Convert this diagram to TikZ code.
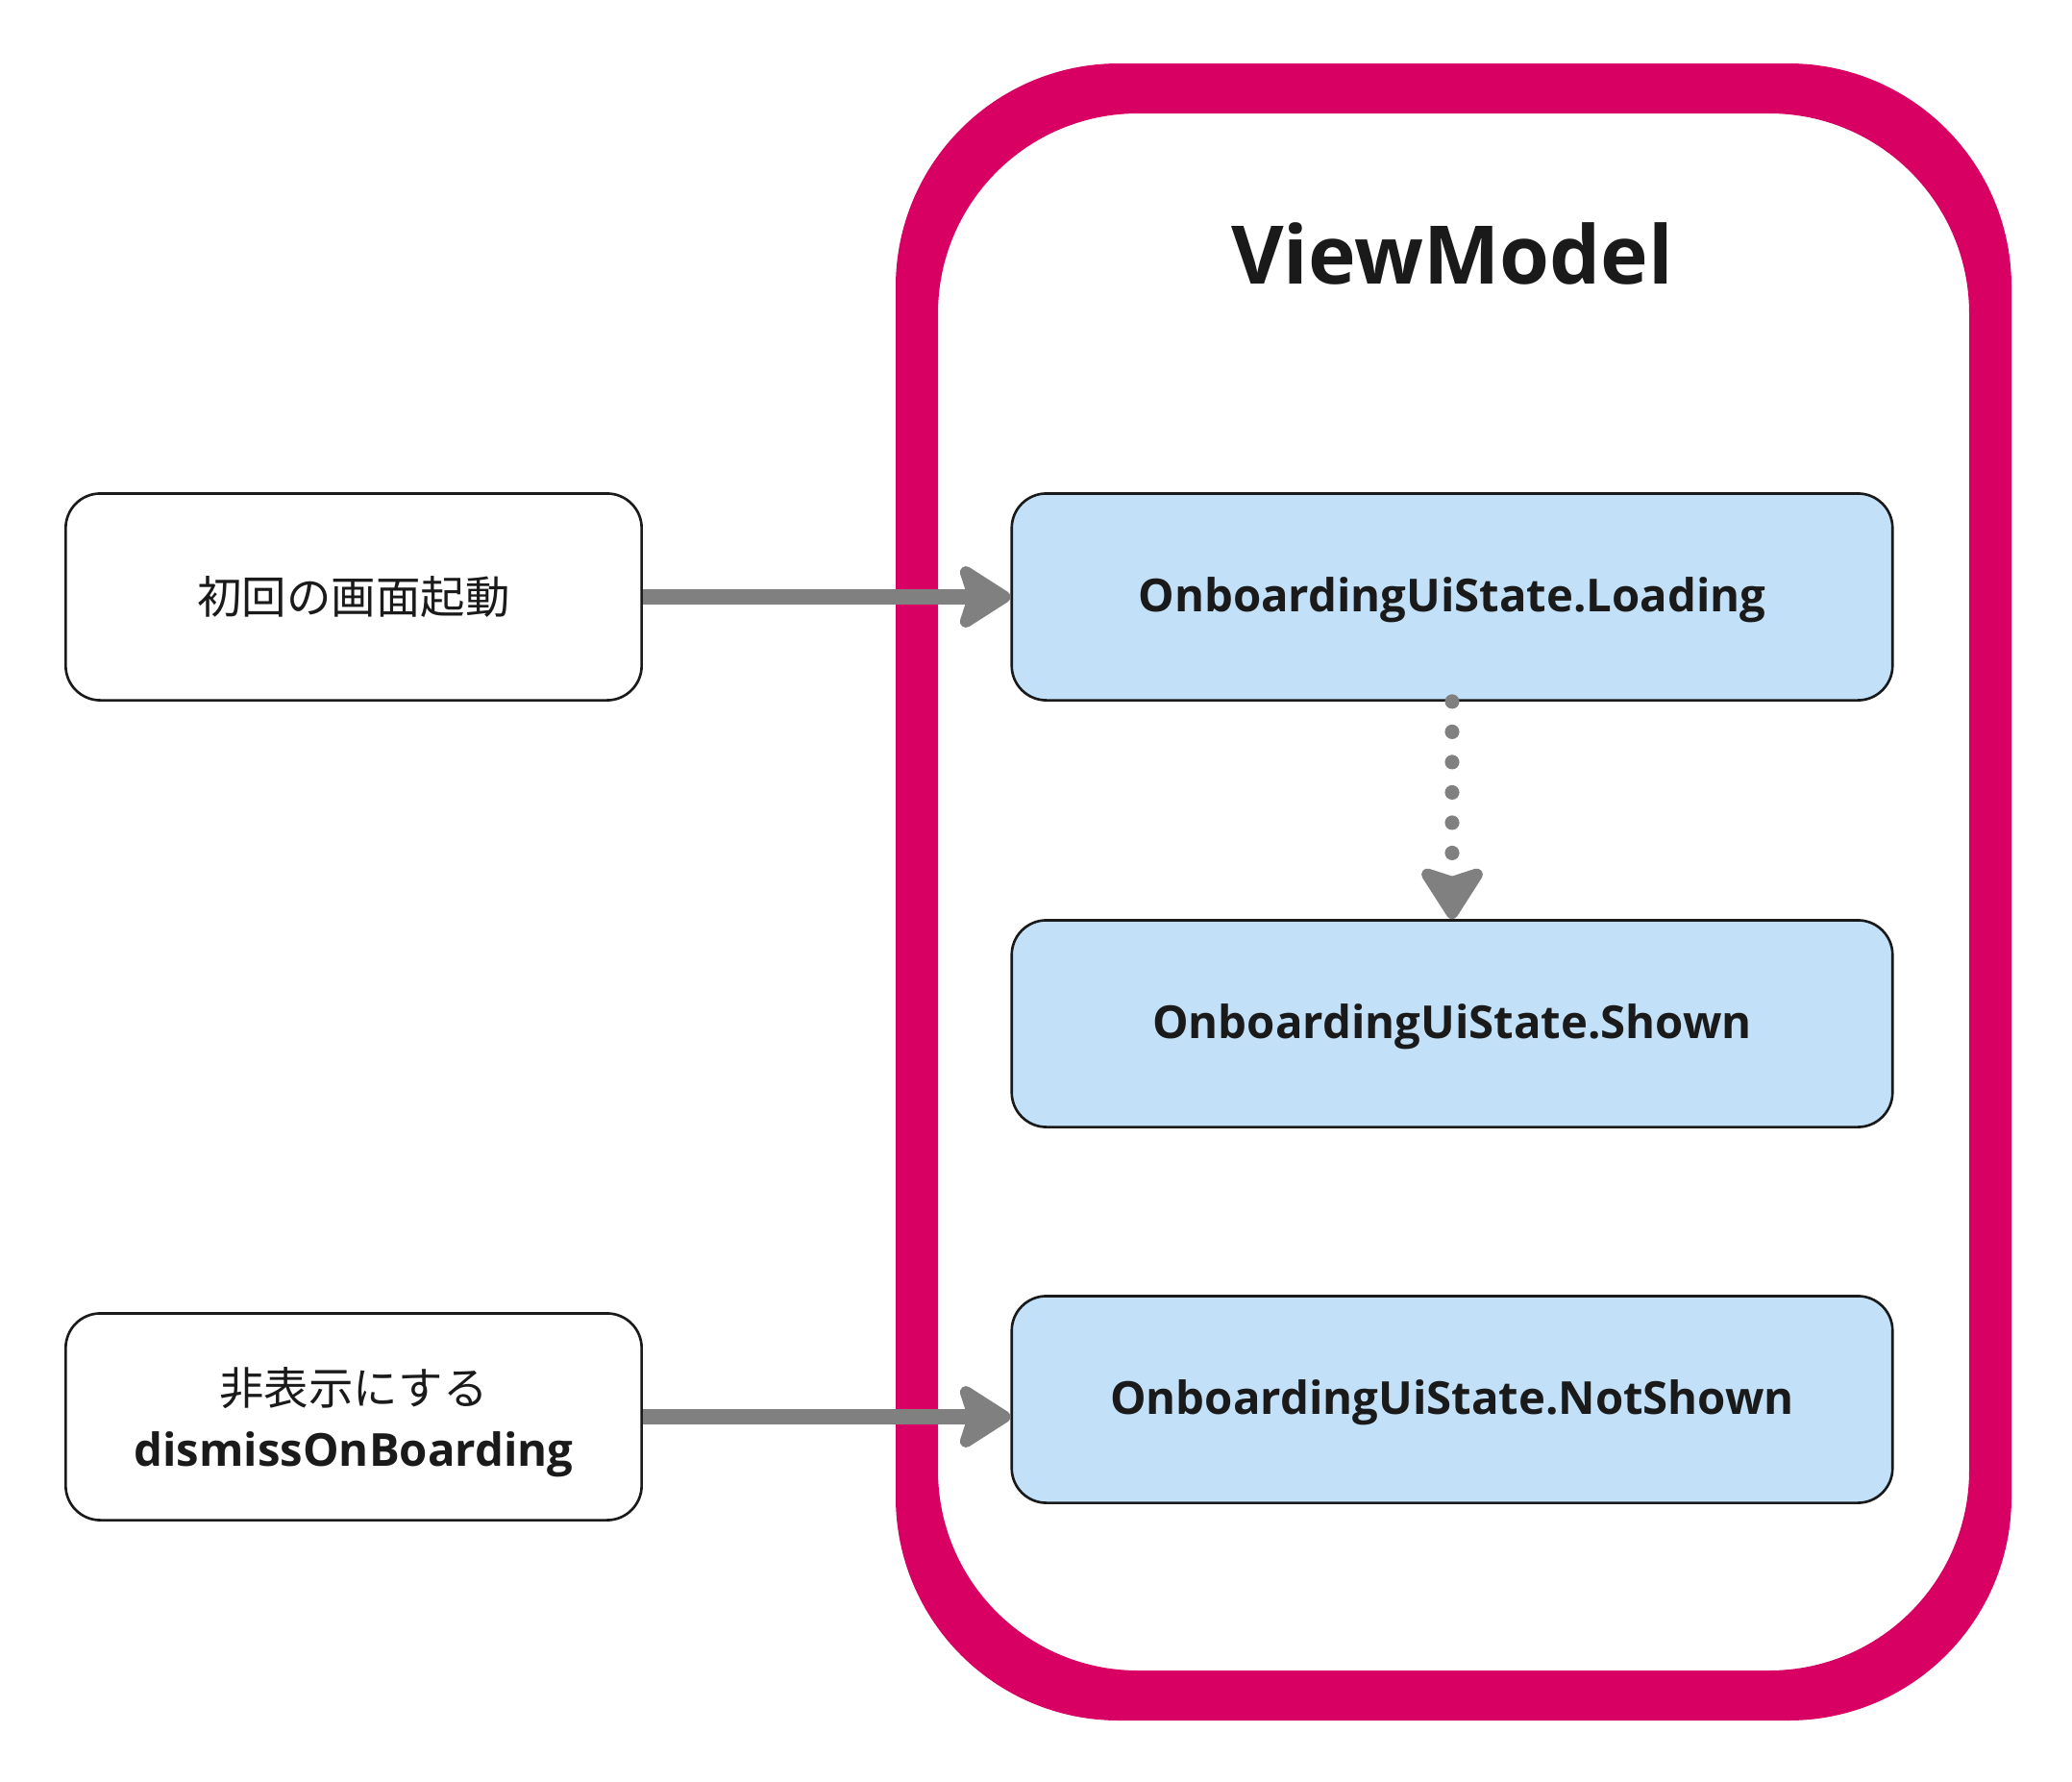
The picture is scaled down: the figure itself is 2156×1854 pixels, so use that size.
\documentclass[tikz,border=0pt]{standalone}
\usepackage{fontspec}
\setmainfont{Open Sans}
\newfontfamily\jp{Noto Sans CJK JP}
\usetikzlibrary{arrows.meta}
\definecolor{vmpink}{RGB}{216,0,98}
\definecolor{stblue}{RGB}{194,224,247}
\definecolor{arrgray}{RGB}{128,128,128}
\definecolor{ink}{RGB}{26,26,26}
\tikzset{
  statebox/.style={draw=ink, line width=0.75pt, fill=stblue, rounded corners=0.36cm,
    minimum width=9.16cm, minimum height=2.15cm, inner sep=0pt,
    text height=0.9em, text depth=0pt,
    font=\fontsize{13.45pt}{18pt}\selectfont\bfseries, text=ink},
  eventbox/.style={draw=ink, line width=0.75pt, fill=white, rounded corners=0.36cm,
    minimum width=5.99cm, minimum height=2.15cm, inner sep=0pt, align=center,
    font=\fontsize{13.2pt}{18.2pt}\selectfont, text=ink},
  conn/.style={draw=arrgray, line width=4.3pt,
    -{Stealth[length=0.62cm, width=0.78cm, inset=0.12cm, round]}},
  dotconn/.style={draw=arrgray, line width=4.3pt, line cap=round,
    dash pattern=on 0pt off 8.96pt,
    -{Stealth[length=0.62cm, width=0.78cm, inset=0.12cm, round]}},
}
\begin{document}
\begin{tikzpicture}[x=0.01cm,y=-0.01cm]
\useasboundingbox (0,0) rectangle (2156,1854);
% ViewModel frame
\fill[vmpink, even odd rule]
  [rounded corners=2.32cm] (932,66) rectangle (2093,1790)
  [rounded corners=2.08cm] (976,118) rectangle (2049,1738);
\node[anchor=base, font=\fontsize{23.9pt}{28pt}\selectfont\bfseries, text=ink, inner sep=0pt] (title) at (1511,295) {ViewModel};
% states
\node[statebox] (load) at (1511,621) {OnboardingUiState.Loading};
\node[statebox] (shown) at (1511,1065) {OnboardingUiState.Shown};
\node[statebox] (notshown) at (1511,1456) {OnboardingUiState.NotShown};
% events
\node[eventbox] (init) at (368,621) {{\jp 初回の画面起動}};
\node[eventbox] (dismiss) at (368,1474) {};
\node[align=center, inner sep=0pt, text=ink, font=\fontsize{13.2pt}{18.2pt}\selectfont] (dismisstext) at (368,1480)
  {{\jp 非表示にする}\\{\fontsize{13.45pt}{18.2pt}\selectfont\bfseries dismissOnBoarding}};
% connectors
\draw[conn] (init.east) -- (load.west);
\draw[conn] (dismiss.east) -- (dismiss.east -| notshown.west);
\draw[dotconn] (load.south) -- (shown.north);
\end{tikzpicture}
\end{document}
